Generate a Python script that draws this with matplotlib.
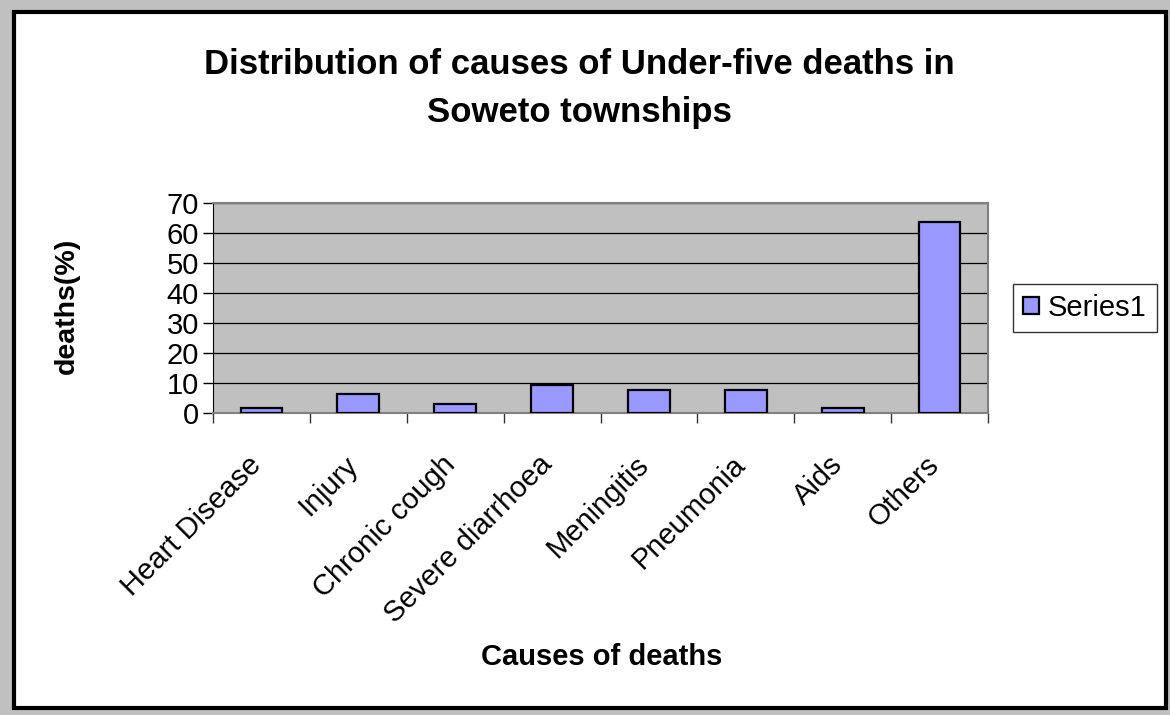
import matplotlib.pyplot as plt
from matplotlib.patches import Rectangle

causes = ["Heart Disease", "Injury", "Chronic cough", "Severe diarrhoea",
          "Meningitis", "Pneumonia", "Aids", "Others"]
deaths_pct = [1.6, 6.2, 3.1, 9.2, 7.7, 7.7, 1.6, 63.8]
y_ticks = [0, 10, 20, 30, 40, 50, 60, 70]

plt.rcParams["font.family"] = ["Liberation Sans", "DejaVu Sans"]

fig = plt.figure(figsize=(11.7, 7.15), dpi=100)
fig.patch.set_facecolor("#c0c0c0")

# white chart area with black frame
fig.patches.append(Rectangle((14 / 1170, 1 - 708 / 715), 1152 / 1170, 696 / 715,
                             transform=fig.transFigure, facecolor="white",
                             edgecolor="black", linewidth=3, zorder=-10))

ax = fig.add_axes([213 / 1170, 1 - 413 / 715, 775 / 1170, 210 / 715])
ax.set_facecolor("#c0c0c0")

x = list(range(len(causes)))
ax.bar(x, deaths_pct, width=0.43, color="#9999ff", edgecolor="black",
       linewidth=1.6, label="Series1", zorder=3)

ax.set_xlim(-0.5, len(causes) - 0.5)
ax.set_ylim(0, 70)
ax.set_yticks(y_ticks)
ax.yaxis.grid(True, color="black", linewidth=0.9, zorder=1)
ax.tick_params(axis="y", labelsize=21, length=7, width=1, pad=3)

# category separators as major ticks, names as minor ticks (nudged left)
ax.set_xticks([i + 0.5 for i in range(-1, len(causes))], minor=False)
ax.set_xticklabels([])
ax.tick_params(axis="x", length=7, width=1, color="#333333")
ax.set_xticks([i - 0.15 for i in x], minor=True)
ax.set_xticklabels(causes, minor=True, rotation=45, ha="right",
                   rotation_mode="anchor", fontsize=21)
ax.tick_params(axis="x", which="minor", length=0, pad=27)

for side in ["top", "right", "bottom"]:
    ax.spines[side].set_color("#808080")
    ax.spines[side].set_linewidth(1.5)
ax.spines["left"].set_color("black")

fig.text(67 / 1170, 1 - 306 / 715, "deaths(%)", fontsize=20.5,
         fontweight="bold", rotation=90, ha="center", va="center")
fig.text(602 / 1170, 1 - 665 / 715, "Causes of deaths", fontsize=21,
         fontweight="bold", ha="center", va="baseline")
fig.text(579 / 1170, 1 - 74 / 715,
         "Distribution of causes of Under-five deaths in",
         fontsize=25, fontweight="bold", ha="center", va="baseline")
fig.text(579 / 1170, 1 - 122 / 715, "Soweto townships",
         fontsize=25, fontweight="bold", ha="center", va="baseline")

leg = ax.legend(loc="center left", bbox_to_anchor=(1.032, 0.5), fontsize=21,
                frameon=True, fancybox=False, handlelength=0.55,
                handleheight=0.55, handletextpad=0.3, borderpad=0.35,
                borderaxespad=0)
leg.get_frame().set_edgecolor("black")
leg.get_frame().set_linewidth(1)

fig.savefig("out.png", dpi=100, facecolor=fig.get_facecolor())
